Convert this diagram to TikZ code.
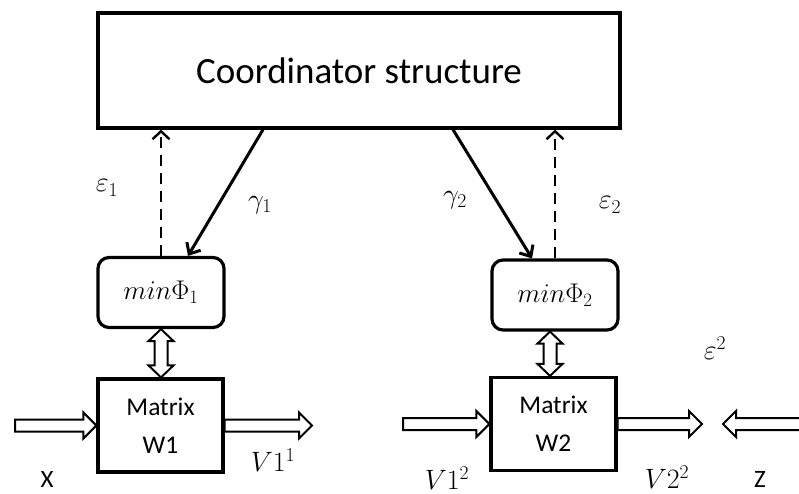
\RequirePackage{fix-cm}
\documentclass[tikz,border=0pt]{standalone}
\usepackage{fontspec}
\setmainfont{Carlito}
\usetikzlibrary{arrows.meta,calc}

\tikzset{
  box/.style={draw, line width=3.2pt, inner sep=0pt},
  phibox/.style={box, rounded corners=11pt, minimum width=126pt, minimum height=70pt, font=\fontsize{27}{30}\selectfont},
  matbox/.style={box, minimum width=125pt, minimum height=93pt, align=center, font=\fontsize{25.5}{38}\selectfont},
  lbl/.style={inner sep=0pt, font=\fontsize{28}{30}\selectfont},
  txt/.style={inner sep=0pt, font=\fontsize{25}{30}\selectfont},
  gammaarrow/.style={line width=3pt, -{Straight Barb[length=9pt,width=16pt]}},
  feedback/.style={line width=2.4pt, dash pattern=on 11pt off 7pt, -{Straight Barb[length=8pt,width=17pt]}},
  hblock/.style={draw, fill=white, line width=2pt, line join=miter,
    to path={let \p1=(\tikztostart), \p2=(\tikztotarget),
      \p3=($(\tikztotarget)!13pt!(\tikztostart)$) in
      (\x1,\y1+6pt) -- (\x3,\y1+6pt) -- (\x3,\y1+13pt) -- (\x2,\y1)
      -- (\x3,\y1-13pt) -- (\x3,\y1-6pt) -- (\x1,\y1-6pt) -- cycle}},
  vblock/.style={draw, fill=white, line width=2pt, line join=miter,
    to path={let \p1=(\tikztostart), \p2=(\tikztotarget),
      \p3=($(\tikztostart)!12pt!(\tikztotarget)$),
      \p4=($(\tikztotarget)!12pt!(\tikztostart)$) in
      (\x1,\y1) -- (\x1+12.5pt,\y3) -- (\x1+6.5pt,\y3) -- (\x1+6.5pt,\y4)
      -- (\x1+12.5pt,\y4) -- (\x1,\y2) -- (\x1-12.5pt,\y4) -- (\x1-6.5pt,\y4)
      -- (\x1-6.5pt,\y3) -- (\x1-12.5pt,\y3) -- cycle}}
}

\begin{document}
\begin{tikzpicture}[x=1pt,y=-1pt]
		%%%%% START %%%%%
		\useasboundingbox (0,0) rectangle (799,494);

		\node[box, minimum width=522pt, minimum height=115pt, font=\fontsize{37}{42}\selectfont] (coord) at (359,70.5) {Coordinator structure};

		\node[phibox] (phi1) at (161,292.5) {$min\Phi_1$};
		\node[phibox] (phi2) at (555,295) {$min\Phi_2$};

		\node[matbox] (mat1) at (160.5,425.5) {Matrix\\W1};
		\node[matbox] (mat2) at (553.5,424) {Matrix\\W2};

		% feedback and coordination
		\draw[feedback] (phi1.north) -- (phi1.north |- coord.south);
		\draw[gammaarrow] ([xshift=-96pt]coord.south) -- ([xshift=27pt]phi1.north);
		\draw[gammaarrow] ([xshift=94pt]coord.south) -- ([xshift=-23pt]phi2.north);
		\draw[feedback] (phi2.north) -- (phi2.north |- coord.south);

		\node[lbl] (eps1) at (107,188) {$\varepsilon_1$};
		\node[lbl] (gam1) at (260,205) {$\gamma_1$};
		\node[lbl] (gam2) at (455,200) {$\gamma_2$};
		\node[lbl] (eps2) at (610,205) {$\varepsilon_2$};

		% block arrows
		\draw[vblock] (phi1.south) to (mat1.north);
		\draw[vblock] ([xshift=-5pt]phi2.south) to ([xshift=-3.5pt]mat2.north);

		\coordinate (xtail) at (15,425.5);
		\coordinate (v11tip) at (312,425.5);
		\coordinate (v12tail) at (403,424);
		\coordinate (v22tip) at (702,424);
		\coordinate (ztail) at (801,424);
		\coordinate (ztip) at (723,424);

		\draw[hblock] (xtail) to (mat1.west);
		\draw[hblock] (mat1.east) to (v11tip);
		\draw[hblock] (v12tail) to (mat2.west);
		\draw[hblock] (mat2.east) to (v22tip);
		\draw[hblock] (ztail) to (ztip);

		\node[lbl] (v11) at (273,460) {$V1^1$};
		\node[lbl] (v12) at (447,478) {$V1^2$};
		\node[lbl] (v22) at (667,477) {$V2^2$};
		\node[lbl] (epsz) at (715,348) {$\varepsilon^2$};
		\node[txt] (xlbl) at (47,479) {X};
		\node[txt] (zlbl) at (760,479) {Z};

		%%%%% END %%%%%
\end{tikzpicture}
\end{document}
